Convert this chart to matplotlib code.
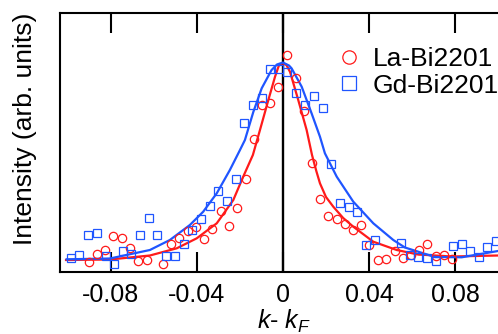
import matplotlib.pyplot as plt
import numpy as np

plt.rcParams['font.family'] = ['Liberation Sans', 'DejaVu Sans']
plt.rcParams['mathtext.fontset'] = 'custom'
plt.rcParams['mathtext.rm'] = 'Liberation Sans'
plt.rcParams['mathtext.it'] = 'Liberation Sans:italic'

# La-Bi2201 data (k - kF, intensity in arb. units)
la_k = [-0.0904, -0.0866, -0.0828, -0.0789, -0.0750, -0.0711, -0.0673, -0.0634,
        -0.0556, -0.0519, -0.0483, -0.0444, -0.0406, -0.0366, -0.0329, -0.0289,
        -0.0249, -0.0213, -0.0173, -0.0136, -0.0098, -0.0060, -0.0022, 0.0020,
        0.0059, 0.0098, 0.0135, 0.0171, 0.0210, 0.0249, 0.0287, 0.0325,
        0.0364, 0.0398, 0.0441, 0.0479, 0.0519, 0.0556, 0.0594, 0.0634,
        0.0672, 0.0710, 0.0750, 0.0788]
la_int = [10.3, 18.0, 22.0, 36.0, 34.0, 24.3, 11.0, 12.0,
          8.0, 28.3, 33.8, 41.3, 44.8, 32.8, 42.7, 61.3,
          45.7, 63.8, 92.7, 133.5, 167.0, 169.3, 184.8, 216.7,
          194.5, 160.7, 108.8, 72.9, 55.7, 52.8, 47.8, 42.0,
          47.0, 27.0, 11.7, 12.8, 20.6, 14.0, 17.3, 22.3,
          28.3, 16.5, 17.0, 12.7]

# Gd-Bi2201 data
gd_k = [-0.0988, -0.0947, -0.0907, -0.0866, -0.0823, -0.0785, -0.0746, -0.0705,
        -0.0664, -0.0625, -0.0585, -0.0546, -0.0503, -0.0460, -0.0421, -0.0381,
        -0.0341, -0.0300, -0.0260, -0.0220, -0.0180, -0.0140, -0.0099, -0.0061,
        -0.0020, 0.0017, 0.0062, 0.0102, 0.0143, 0.0185, 0.0225, 0.0266,
        0.0306, 0.0345, 0.0386, 0.0427, 0.0547, 0.0592, 0.0630, 0.0670,
        0.0710, 0.0791, 0.0832, 0.0870, 0.0911, 0.0950, 0.0989]
gd_int = [14.0, 17.0, 37.2, 38.7, 15.7, 8.5, 21.0, 17.7,
          36.8, 54.0, 37.2, 16.5, 16.5, 28.2, 42.5, 52.8,
          66.5, 81.5, 71.5, 92.8, 149.2, 167.0, 174.3, 202.7,
          202.7, 200.3, 179.3, 167.3, 176.0, 164.3, 107.7, 69.0,
          65.3, 59.7, 27.3, 32.3, 28.7, 17.3, 15.0, 13.7,
          11.2, 26.0, 28.2, 21.0, 14.8, 25.3, 31.5]

# fitted curves
la_fit_k = [-0.1009, -0.0805, -0.0619, -0.0494, -0.0401, -0.0308, -0.0231, -0.0185,
            -0.0140, -0.0107, -0.0068, -0.0037, -0.0019, -0.0002, 0.0016, 0.0033,
            0.0071, 0.0110, 0.0135, 0.0155, 0.0172, 0.0200, 0.0234, 0.0280,
            0.0327, 0.0420, 0.0529, 0.0628, 0.0786, 0.1000]
la_fit_int = [12.0, 12.5, 16.5, 23.7, 33.7, 48.7, 72.0, 95.3,
              117.0, 142.0, 172.0, 195.3, 206.5, 208.7, 207.0, 200.0,
              172.0, 142.0, 117.0, 101.0, 88.7, 75.0, 65.3, 54.0,
              45.3, 30.3, 22.0, 17.5, 15.5, 16.5]

gd_fit_k = [-0.1006, -0.0805, -0.0619, -0.0526, -0.0433, -0.0371, -0.0308, -0.0247,
            -0.0200, -0.0177, -0.0138, -0.0099, -0.0053, -0.0028, 0.0000, 0.0028,
            0.0040, 0.0087, 0.0133, 0.0172, 0.0195, 0.0250, 0.0327, 0.0420,
            0.0513, 0.0567, 0.0707, 0.0831, 0.1000]
gd_fit_int = [12.7, 13.5, 22.0, 32.0, 47.0, 60.3, 78.7, 102.0,
              122.0, 132.0, 160.0, 183.7, 202.0, 207.5, 209.5, 206.5,
              203.7, 185.3, 158.7, 135.3, 118.7, 95.3, 70.3, 48.7,
              32.0, 24.5, 15.0, 14.7, 21.0]

xticks = [-0.08, -0.04, 0, 0.04, 0.08]
xticklabels = ['-0.08', '-0.04', '0', '0.04', '0.08']

red = '#ff1a1a'
blue = '#1f55ff'

fig = plt.figure(figsize=(4.98, 3.34), dpi=100)
ax = fig.add_axes([60 / 498, 62 / 334, 438 / 498, 259 / 334])

ax.axvline(0, color='black', lw=1.7, zorder=1)
ax.plot(la_fit_k, la_fit_int, color=red, lw=1.6, zorder=3)
ax.plot(gd_fit_k, gd_fit_int, color=blue, lw=1.6, zorder=3)
ax.plot(la_k, la_int, 'o', mfc='none', mec=red, ms=6, mew=0.9,
        label='La-Bi2201', zorder=4)
ax.plot(gd_k, gd_int, 's', mfc='none', mec=blue, ms=6, mew=0.9,
        label='Gd-Bi2201', zorder=4)

ax.set_xlim(-0.1037, 0.1)
ax.set_ylim(0, 259)
ax.set_xticks(xticks)
ax.set_xticklabels(xticklabels)
ax.set_yticks([])
ax.tick_params(axis='x', which='both', direction='in', length=14.4, width=1.5,
               top=True, bottom=True, labelsize=18, pad=8)
for s in ['left', 'top', 'bottom']:
    ax.spines[s].set_linewidth(1.5)
ax.spines['right'].set_visible(False)

fig.text(25 / 498, (334 - 129) / 334, 'Intensity (arb. units)', rotation=90,
         ha='center', va='center', fontsize=19)
fig.text(284 / 498, 5 / 334, r'$k$- $k_F$', ha='center', va='baseline',
         fontsize=18)

ax.legend(loc='upper left', bbox_to_anchor=(336 / 498, (334 - 47) / 334),
          bbox_transform=fig.transFigure, frameon=False, fontsize=19,
          handlelength=1.0, handletextpad=0.4, borderpad=0, borderaxespad=0,
          labelspacing=0.1, markerscale=1.6)

fig.savefig('out.png', dpi=100)
